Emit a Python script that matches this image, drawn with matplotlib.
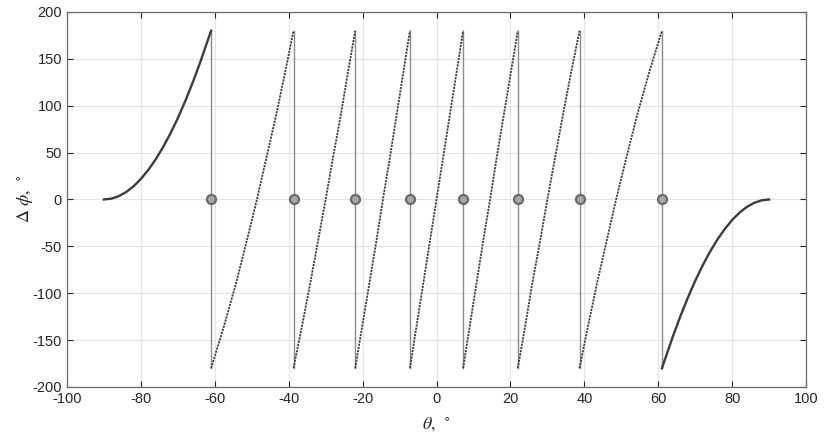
import matplotlib.pyplot as plt
import numpy as np

# angles (deg) where the phase difference wraps from +180 to -180
theta_wrap = [-61.0, -38.7, -22.0, -7.2, 7.2, 22.0, 38.7, 61.0]

# left end curve
theta_left = [-90, -88, -86, -84, -82, -80, -78, -76, -74, -72, -70,
              -68, -66, -64, -62, -61.0]
phi_left = [0, 0.9, 3.5, 7.9, 14.0, 21.9, 31.5, 42.8, 55.8, 70.5, 86.8,
            104.9, 124.5, 145.7, 168.6, 180]

# right end curve
theta_right = [61.0, 62, 64, 66, 68, 70, 72, 74, 76, 78, 80,
               82, 84, 86, 88, 90]
phi_right = [-180, -168.6, -145.7, -124.5, -104.9, -86.8, -70.5, -55.8,
             -42.8, -31.5, -21.9, -14.0, -7.9, -3.5, -0.9, 0]

# middle saw-tooth segments: theta at the phi levels below
phi_seg = [-180, -135, -90, -45, 0, 45, 90, 135, 180]
theta_seg = [
    [-61.0, -57.5, -54.3, -51.4, -48.6, -46.0, -43.4, -41.0, -38.7],
    [-38.7, -36.4, -34.2, -32.1, -30.0, -28.0, -25.9, -24.0, -22.0],
    [-22.0, -20.1, -18.2, -16.3, -14.5, -12.6, -10.8, -9.0, -7.2],
    [-7.2, -5.4, -3.6, -1.8, 0.0, 1.8, 3.6, 5.4, 7.2],
    [7.2, 9.0, 10.8, 12.6, 14.5, 16.3, 18.2, 20.1, 22.0],
    [22.0, 24.0, 25.9, 28.0, 30.0, 32.1, 34.2, 36.4, 38.7],
    [38.7, 41.0, 43.4, 46.0, 48.6, 51.4, 54.3, 57.5, 61.0],
]

plt.rcParams['font.family'] = ['Liberation Sans', 'DejaVu Sans']
plt.rcParams['mathtext.fontset'] = 'stix'
plt.rcParams['axes.unicode_minus'] = False

fig = plt.figure(figsize=(8.29, 4.44), dpi=100)
ax = fig.add_axes([0.0808, 0.1284, 0.8915, 0.8446])

line_c = '#3c3c3c'

# vertical wrap lines
for t in theta_wrap:
    ax.plot([t, t], [-180, 180], color='#8a8a8a', lw=1.0, zorder=2)

ax.plot(theta_left, phi_left, color=line_c, lw=1.7, zorder=3)
ax.plot(theta_right, phi_right, color=line_c, lw=1.7, zorder=3)
for seg in theta_seg:
    ax.plot(seg, phi_seg, color=line_c, lw=1.3, ls=(0, (1.2, 0.6)), zorder=3)

ax.plot(theta_wrap, np.zeros(len(theta_wrap)), 'o', ms=6.5, mfc='#a8a8a8',
        mec='#6a6a6a', mew=1.6, zorder=4)

ax.set_xlim(-100, 100)
ax.set_ylim(-200, 200)
ax.set_xticks(np.arange(-100, 101, 20))
ax.set_yticks(np.arange(-200, 201, 50))
ax.grid(True, color='#e4e4e4', lw=0.8)
ax.set_axisbelow(True)
ax.tick_params(direction='in', length=4, labelsize=10.5, colors='#262626',
               top=True, right=True, labeltop=False, labelright=False)
for s in ax.spines.values():
    s.set_color('#6a6a6a')
    s.set_linewidth(0.9)

ax.set_xlabel(r'$\theta,\ ^\circ$', fontsize=13, color='#262626', labelpad=7)
ax.set_ylabel(r'$\Delta\ \phi,\ ^\circ$', fontsize=13, color='#262626', labelpad=-2)

fig.savefig('out.png', dpi=100)
